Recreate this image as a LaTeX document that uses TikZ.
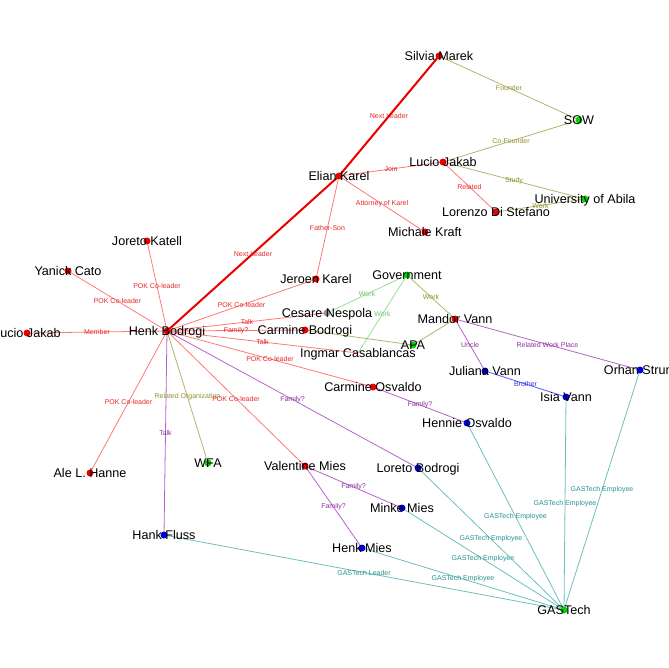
\documentclass[tikz,border=0pt]{standalone}
\usepackage{fontspec}
\setmainfont{Liberation Sans}
\definecolor{nred}{RGB}{235,0,0}
\definecolor{ngreen}{RGB}{0,215,0}
\definecolor{nblue}{RGB}{0,0,225}
\definecolor{ngray}{RGB}{150,150,150}
\definecolor{lred}{RGB}{255,120,120}
\definecolor{tred}{RGB}{230,40,40}
\definecolor{lolive}{RGB}{180,180,110}
\definecolor{tolive}{RGB}{145,145,50}
\definecolor{lgreen}{RGB}{150,225,150}
\definecolor{tgreen}{RGB}{110,195,110}
\definecolor{lpurple}{RGB}{180,100,200}
\definecolor{tpurple}{RGB}{140,50,160}
\definecolor{lblue}{RGB}{90,90,255}
\definecolor{tblue}{RGB}{50,50,230}
\definecolor{lteal}{RGB}{110,190,190}
\definecolor{tteal}{RGB}{40,145,145}
\begin{document}
\begin{tikzpicture}[x=1pt,y=-1pt,
  dot/.style={circle,inner sep=0pt,minimum size=7pt},
  rdot/.style={dot,fill=nred},
  gdot/.style={dot,fill=ngreen},
  bdot/.style={dot,fill=nblue},
  ydot/.style={dot,fill=ngray},
  nm/.style={font=\fontsize{12.6}{14}\selectfont,anchor=base,yshift=-4.5pt,inner sep=0pt},
  elab/.style={font=\fontsize{7}{8}\selectfont,inner sep=0pt,midway},
  ered/.style={draw=lred,line width=0.8pt},
  elead/.style={draw=nred,line width=2pt},
  eolive/.style={draw=lolive,line width=0.8pt},
  egreen/.style={draw=lgreen,line width=0.8pt},
  epurple/.style={draw=lpurple,line width=0.8pt},
  eblue/.style={draw=lblue,line width=0.8pt},
  eteal/.style={draw=lteal,line width=0.8pt},
  rl/.style={elab,text=tred},
  ol/.style={elab,text=tolive},
  gl/.style={elab,text=tgreen},
  pl/.style={elab,text=tpurple},
  bl/.style={elab,text=tblue},
  tl/.style={elab,text=tteal}
]
\useasboundingbox (0,0) rectangle (668,668);
% positions
\coordinate (sm) at (439,56);
\coordinate (sow) at (579,120);
\coordinate (lj) at (443,162);
\coordinate (ek) at (339,176);
\coordinate (ua) at (585,199);
\coordinate (lds) at (496,212);
\coordinate (mk) at (425,232);
\coordinate (jok) at (147,241);
\coordinate (yc) at (68,271);
\coordinate (jk) at (316,279);
\coordinate (gov) at (407,275);
\coordinate (cn) at (327,313);
\coordinate (hb) at (167,331);
\coordinate (ljl) at (27,333);
\coordinate (cb) at (305,330);
\coordinate (mv) at (455,319);
\coordinate (apa) at (413,345);
\coordinate (ic) at (358,353);
\coordinate (co) at (373,387);
\coordinate (jv) at (485,371);
\coordinate (os) at (640,370);
\coordinate (iv) at (566,397);
\coordinate (ho) at (467,423);
\coordinate (alh) at (90,473);
\coordinate (wfa) at (208,463);
\coordinate (vm) at (305,466);
\coordinate (lb) at (418,468);
\coordinate (mm) at (402,508);
\coordinate (hf) at (164,535);
\coordinate (hm) at (362,548);
\coordinate (gt) at (564,610);
% edges
\draw[elead] (hb) -- (ek) node[rl]{Next Leader};
\draw[elead] (ek) -- (sm) node[rl]{Next Leader};
\draw[eolive] (sm) -- (sow) node[ol]{Founder};
\draw[eolive] (lj) -- (sow) node[ol]{Co-Founder};
\draw[eolive] (lj) -- (ua) node[ol]{Study};
\draw[ered] (lj) -- (lds) node[rl]{Related};
\draw[eolive] (lds) -- (ua) node[ol]{Work};
\draw[ered] (ek) -- (lj) node[rl]{Join};
\draw[ered] (ek) -- (mk) node[rl]{Attorney of Karel};
\draw[ered] (ek) -- (jk) node[rl]{Father-Son};
\draw[ered] (hb) -- (jok) node[rl]{POK Co-leader};
\draw[ered] (hb) -- (yc) node[rl]{POK Co-leader};
\draw[ered] (hb) -- (ljl) node[rl]{Member};
\draw[ered] (hb) -- (jk) node[rl]{POK Co-leader};
\draw[ered] (hb) -- (cn) node[rl]{Talk};
\draw[ered] (hb) -- (cb) node[rl]{Family?};
\draw[ered] (hb) -- (ic) node[rl]{Talk};
\draw[ered] (hb) -- (co) node[rl]{POK Co-leader};
\draw[eolive] (hb) -- (wfa) node[ol]{Related Organization};
\draw[ered] (hb) -- (vm) node[rl]{POK Co-leader};
\draw[epurple] (hb) -- (lb) node[pl]{Family?};
\draw[ered] (hb) -- (alh) node[rl]{POK Co-leader};
\draw[epurple] (hb) -- (hf) node[pl]{Talk};
\draw[egreen] (gov) -- (cn) node[gl]{Work};
\draw[egreen] (gov) -- (ic) node[gl]{Work};
\draw[eolive] (gov) -- (mv) node[ol]{Work};
\draw[eolive] (cb) -- (apa);
\draw[eolive] (mv) -- (apa);
\draw[epurple] (mv) -- (jv) node[pl]{Uncle};
\draw[epurple] (mv) -- (os) node[pl]{Related Work Place};
\draw[eblue] (jv) -- (iv) node[bl]{Brother};
\draw[epurple] (co) -- (ho) node[pl]{Family?};
\draw[epurple] (vm) -- (mm) node[pl]{Family?};
\draw[epurple] (vm) -- (hm) node[pl]{Family?};
\draw[eteal] (hf) -- (gt) node[tl]{GASTech Leader};
\draw[eteal] (hm) -- (gt) node[tl]{GASTech Employee};
\draw[eteal] (mm) -- (gt) node[tl]{GASTech Employee};
\draw[eteal] (lb) -- (gt) node[tl]{GASTech Employee};
\draw[eteal] (ho) -- (gt) node[tl]{GASTech Employee};
\draw[eteal] (iv) -- (gt) node[tl]{GASTech Employee};
\draw[eteal] (os) -- (gt) node[tl]{GASTech Employee};
% dots
\node[rdot] (smd) at (sm) {};
\node[gdot] (sowd) at (sow) {};
\node[rdot] (ljd) at (lj) {};
\node[rdot] (ekd) at (ek) {};
\node[gdot] (uad) at (ua) {};
\node[rdot] (ldsd) at (lds) {};
\node[rdot] (mkd) at (mk) {};
\node[rdot] (jokd) at (jok) {};
\node[rdot] (ycd) at (yc) {};
\node[rdot] (jkd) at (jk) {};
\node[gdot] (govd) at (gov) {};
\node[ydot] (cnd) at (cn) {};
\node[rdot] (hbd) at (hb) {};
\node[rdot] (ljld) at (ljl) {};
\node[rdot] (cbd) at (cb) {};
\node[rdot] (mvd) at (mv) {};
\node[gdot] (apad) at (apa) {};
\node[rdot] (cod) at (co) {};
\node[bdot] (jvd) at (jv) {};
\node[bdot] (osd) at (os) {};
\node[bdot] (ivd) at (iv) {};
\node[bdot] (hod) at (ho) {};
\node[rdot] (alhd) at (alh) {};
\node[gdot] (wfad) at (wfa) {};
\node[rdot] (vmd) at (vm) {};
\node[bdot] (lbd) at (lb) {};
\node[bdot] (mmd) at (mm) {};
\node[bdot] (hfd) at (hf) {};
\node[bdot] (hmd) at (hm) {};
\node[gdot] (gtd) at (gt) {};
% names
\node[nm] (smt) at (sm) {Silvia Marek};
\node[nm] (sowt) at (sow) {SOW};
\node[nm] (ljt) at (lj) {Lucio Jakab};
\node[nm] (ekt) at (ek) {Elian Karel};
\node[nm] (uat) at (ua) {University of Abila};
\node[nm] (ldst) at (lds) {Lorenzo Di Stefano};
\node[nm] (mkt) at (mk) {Michale Kraft};
\node[nm] (jokt) at (jok) {Joreto Katell};
\node[nm] (yct) at (yc) {Yanick Cato};
\node[nm] (jkt) at (jk) {Jeroen Karel};
\node[nm] (govt) at (gov) {Government};
\node[nm] (cnt) at (cn) {Cesare Nespola};
\node[nm] (hbt) at (hb) {Henk Bodrogi};
\node[nm] (ljlt) at (ljl) {Lucio Jakab};
\node[nm] (cbt) at (cb) {Carmine Bodrogi};
\node[nm] (mvt) at (mv) {Mandor Vann};
\node[nm] (apat) at (apa) {APA};
\node[nm] (ict) at (ic) {Ingmar Casablancas};
\node[nm] (cot) at (co) {Carmine Osvaldo};
\node[nm] (jvt) at (jv) {Juliana Vann};
\node[nm] (ost) at (os) {Orhan Strum};
\node[nm] (ivt) at (iv) {Isia Vann};
\node[nm] (hot) at (ho) {Hennie Osvaldo};
\node[nm] (alht) at (alh) {Ale L. Hanne};
\node[nm] (wfat) at (wfa) {WFA};
\node[nm] (vmt) at (vm) {Valentine Mies};
\node[nm] (lbt) at (lb) {Loreto Bodrogi};
\node[nm] (mmt) at (mm) {Minke Mies};
\node[nm] (hft) at (hf) {Hank Fluss};
\node[nm] (hmt) at (hm) {Henk Mies};
\node[nm] (gtt) at (gt) {GASTech};
\end{tikzpicture}
\end{document}
